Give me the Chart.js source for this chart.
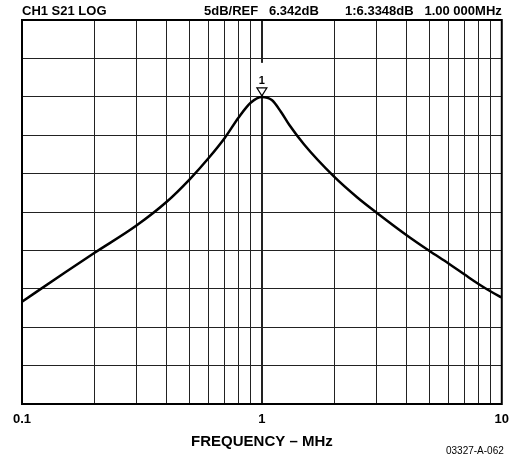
<!DOCTYPE html>
<html>
<head>
<meta charset="utf-8">
<script src="https://cdn.jsdelivr.net/npm/chart.js@4.4.1/dist/chart.umd.min.js"></script>
<style>
    html, body { margin: 0; padding: 0; background: #fff; }
    #grafico { display: block; }
</style>
</head>
<body>
<canvas id="grafico" width="517" height="459"></canvas>
<script>
const frequencias = [0.1, 0.15, 0.2, 0.3, 0.4, 0.5, 0.6, 0.7, 0.8, 0.9, 1.0, 1.1, 1.2, 1.3, 1.5, 2, 2.5, 3, 4, 5, 6, 7, 8, 9, 10];
const ganhoDb = [-20.34, -16.60, -14.00, -10.42, -7.36, -4.40, -1.63, 0.98, 3.65, 5.60, 6.33, 5.92, 4.40, 2.70, 0.13, -4.06, -6.77, -8.72, -11.65, -13.74, -15.36, -16.80, -18.03, -19.01, -19.79];

// linhas verticais da grade (decadas) e os rotulos que aparecem
const linhasGrade = [0.1, 0.2, 0.3, 0.4, 0.5, 0.6, 0.7, 0.8, 0.9, 1, 2, 3, 4, 5, 6, 7, 8, 9, 10];
const rotulosX = [0.1, 1, 10];

// escala vertical: 5 dB por divisao, referencia na 2a divisao a partir do topo
const refDb = 6.342;
const dbPorDiv = 5;
const divisoes = 10;
const divRef = 2;

// marcador 1
const marcadorFreq = 1.0;
const marcadorDb = 6.3348;

const cabecalho = {
    canal: 'CH1 S21 LOG',
    escala: '5dB/REF',
    ref: '6.342dB',
    marcador: '1:6.3348dB',
    freq: '1.00 000MHz'
};
const codigoFigura = '03327-A-062';

const fonte = "'Liberation Sans', Arial, sans-serif";

const yMax = refDb + divRef * dbPorDiv;
const yMin = refDb - (divisoes - divRef) * dbPorDiv;

const molduraPlugin = {
    id: 'molduraPlugin',
    afterDraw: (chart) => {
        const { ctx, chartArea: { top, bottom, left, right }, scales: { x, y } } = chart;

        // marcador: abre espaco na linha central, triangulo e numero
        const px = x.getPixelForValue(marcadorFreq);
        const py = y.getPixelForValue(marcadorDb);
        ctx.save();
        ctx.fillStyle = '#fff';
        ctx.fillRect(px - 4, py - 34, 8, 25);
        ctx.beginPath();
        ctx.moveTo(px - 5, py - 9);
        ctx.lineTo(px + 5, py - 9);
        ctx.lineTo(px, py - 1);
        ctx.closePath();
        ctx.fill();
        ctx.strokeStyle = '#000';
        ctx.lineWidth = 1.2;
        ctx.stroke();
        ctx.fillStyle = '#000';
        ctx.font = 'bold 11px ' + fonte;
        ctx.textAlign = 'center';
        ctx.textBaseline = 'alphabetic';
        ctx.fillText('1', px, py - 13);
        ctx.restore();

        // moldura do grafico
        ctx.save();
        ctx.strokeStyle = '#000';
        ctx.lineWidth = 2;
        ctx.strokeRect(left, top, right - left, bottom - top);
        ctx.restore();

        // cabecalho
        ctx.save();
        ctx.fillStyle = '#000';
        ctx.font = 'bold 13px ' + fonte;
        ctx.textBaseline = 'alphabetic';
        ctx.textAlign = 'left';
        ctx.fillText(cabecalho.canal, left, 15);
        ctx.fillText(cabecalho.escala, 204, 15);
        ctx.fillText(cabecalho.ref, 269, 15);
        ctx.fillText(cabecalho.marcador, 345, 15);
        ctx.textAlign = 'right';
        ctx.fillText(cabecalho.freq, right, 15);

        ctx.font = '10px ' + fonte;
        ctx.fillText(codigoFigura, right + 2, 454);
        ctx.restore();
    }
};

const dadosGrafico = {
    type: 'line',
    data: {
        datasets: [{
            label: 'S21',
            data: frequencias.map((f, i) => ({ x: f, y: ganhoDb[i] })),
            borderColor: '#000',
            borderWidth: 2.5,
            pointRadius: 0,
            fill: false,
            cubicInterpolationMode: 'monotone'
        }]
    },
    options: {
        responsive: false,
        animation: false,
        devicePixelRatio: 1,
        layout: {
            padding: { left: 22, right: 15, top: 20, bottom: 8 }
        },
        plugins: {
            legend: { display: false },
            tooltip: { enabled: false }
        },
        scales: {
            x: {
                type: 'logarithmic',
                min: 0.1,
                max: 10,
                afterBuildTicks: (s) => { s.ticks = linhasGrade.map(v => ({ value: v })); },
                afterFit: (s) => { s.height = 47; },
                border: { display: false },
                grid: {
                    color: '#222',
                    lineWidth: (c) => (c.tick && c.tick.value === 1 ? 2 : 1),
                    drawTicks: false
                },
                ticks: {
                    autoSkip: false,
                    maxRotation: 0,
                    padding: 8,
                    color: '#000',
                    font: { family: fonte, size: 13, weight: 'bold' },
                    callback: (v) => (rotulosX.includes(v) ? String(v) : '')
                },
                title: {
                    display: true,
                    text: 'FREQUENCY – MHz',
                    color: '#000',
                    font: { family: fonte, size: 15, weight: 'bold' },
                    padding: { top: 0, bottom: 0 }
                }
            },
            y: {
                min: yMin,
                max: yMax,
                afterBuildTicks: (s) => {
                    const t = [];
                    for (let i = 0; i <= divisoes; i++) t.push({ value: yMin + i * dbPorDiv });
                    s.ticks = t;
                },
                afterFit: (s) => { s.width = 0; },
                border: { display: false },
                grid: { color: '#222', lineWidth: 1, drawTicks: false },
                ticks: { display: false }
            }
        }
    },
    plugins: [molduraPlugin]
};

const meuGrafico = new Chart('grafico', dadosGrafico);
</script>
</body>
</html>
